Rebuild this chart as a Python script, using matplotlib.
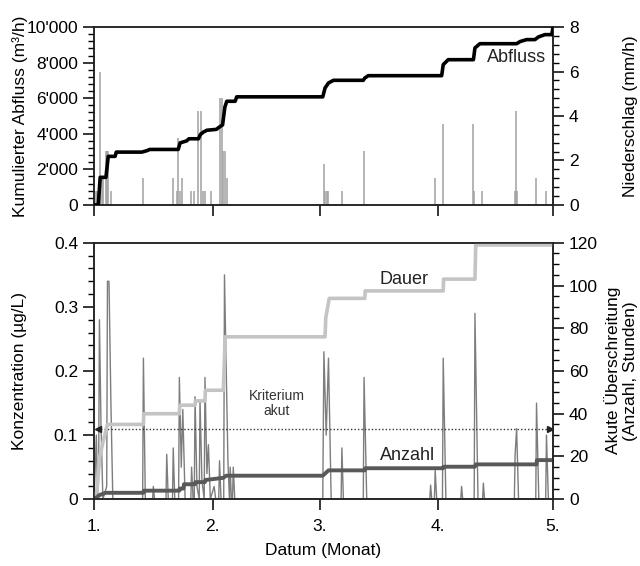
import matplotlib
matplotlib.use('Agg')
import matplotlib.pyplot as plt
from matplotlib.ticker import FuncFormatter, MultipleLocator

plt.rcParams['font.family'] = ['Liberation Sans', 'DejaVu Sans']
plt.rcParams['font.size'] = 12.5

# x axis: days since 1 January; ticks at the first day of each month
month_days = [0, 31, 59, 90, 120]
month_labels = ['1.', '2.', '3.', '4.', '5.']

# cumulative discharge (m3)
flow_days = [0, 1.1, 1.6, 3.1, 3.7, 5.5, 5.8, 12.5, 13.8, 14.6, 22.0, 22.5, 24.2,
             24.8, 27.3, 27.8, 28.6, 29.5, 32.0, 32.5, 33.6, 34.2, 34.7, 36.9,
             37.3, 59.8, 60.4, 61.3, 62.6, 70.4, 70.8, 71.7, 90.9, 91.3, 92.6,
             99.2, 99.6, 100.9, 110.5, 111.4, 113.1, 115.3, 116.2, 117.9, 119.7, 120]
flow_cum = [0, 0, 1550, 1550, 2730, 2730, 2970, 2970, 3050, 3120, 3120, 3490, 3600,
            3720, 3720, 3960, 4100, 4200, 4250, 4340, 4500, 5500, 5830, 5830,
            6080, 6080, 6580, 6860, 7010, 7010, 7140, 7270, 7270, 7890, 8170,
            8170, 8830, 9070, 9070, 9190, 9300, 9300, 9450, 9580, 9580, 10000]

# rainfall (mm/h)
rain_days = [0.6, 0.8, 1.6, 2.0, 2.4, 3.1, 3.4, 3.7, 4.4, 12.7, 20.6, 21.6, 22.0,
             22.5, 23.1, 25.3, 26.2, 27.3, 28.0, 28.6, 29.0, 30.5, 33.0, 33.4,
             33.8, 34.3, 34.8, 60.0, 60.4, 60.9, 61.3, 64.8, 70.6, 89.2, 91.2,
             99.0, 99.4, 101.4, 110.0, 110.3, 110.7, 115.6, 118.2]
rain_vals = [0.62, 0.62, 6.0, 1.22, 1.22, 2.42, 2.42, 2.42, 0.62, 1.22, 1.22, 0.62, 3.02,
             0.62, 1.22, 0.62, 0.62, 4.22, 4.22, 0.62, 0.62, 0.62, 4.82, 4.82,
             2.42, 2.42, 1.22, 1.82, 0.62, 0.62, 0.62, 0.62, 2.42, 1.22, 3.62,
             3.62, 0.62, 0.62, 0.62, 4.22, 0.62, 1.22, 0.62]

# concentration (ug/L)
conc_days = [0, 0.6, 0.9, 1.2, 1.4, 1.8, 2.3, 3.3, 3.5, 3.9, 4.4, 4.9, 12.7, 12.9,
             13.4, 15.3, 15.5, 15.8, 18.8, 19.0, 19.4, 20.5, 20.7, 21.1, 22.1, 22.3,
             22.8, 23.2, 23.8, 25.3, 25.5, 25.9, 26.2, 26.4, 26.9, 27.5, 27.7, 28.2,
             28.8, 29.0, 29.5, 29.9, 30.4, 31.4, 31.8, 32.6, 32.8, 33.2, 33.9, 34.1,
             34.5, 35.0, 35.4, 35.6, 35.9, 36.2, 36.4, 36.8, 59.8, 60.1, 60.7, 61.3,
             62.0, 64.6, 64.8, 65.2, 70.4, 70.6, 71.3, 87.8, 88.0, 88.3, 89.0, 89.2,
             89.6, 91.1, 91.3, 92.0, 95.9, 96.1, 96.4, 99.4, 99.6, 100.4, 101.6,
             101.8, 102.1, 109.9, 110.1, 110.5, 111.0, 115.5, 115.7, 116.3, 118.1,
             118.3, 118.8, 120]
conc_vals = [0, 0.10, 0, 0.05, 0.28, 0.12, 0, 0.02, 0.34, 0.34, 0.15, 0, 0, 0.22,
             0, 0, 0.02, 0, 0, 0.07, 0, 0, 0.08, 0, 0, 0.19,
             0.05, 0.14, 0, 0, 0.05, 0, 0, 0.16, 0.02, 0, 0.155, 0.03,
             0, 0.19, 0.04, 0.085, 0, 0.02, 0, 0, 0.06, 0, 0, 0.35,
             0.22, 0.06, 0, 0.05, 0, 0, 0.05, 0, 0, 0.23, 0.10, 0.22,
             0, 0, 0.08, 0, 0, 0.19, 0, 0, 0.022, 0, 0, 0.045,
             0, 0, 0.22, 0, 0, 0.02, 0, 0, 0.29, 0, 0,
             0.025, 0, 0, 0.07, 0.11, 0, 0, 0.15, 0, 0,
             0.10, 0, 0]
criterion = 0.11

# acute exceedances: duration (hours) and count
dauer_days = [0, 0.8, 1.5, 2.5, 3.5, 12.9, 13.0, 22.3, 22.4, 26.4, 26.5, 29.0, 29.1,
              33.8, 34.3, 60.4, 60.6, 61.5, 70.8, 70.9, 91.3, 91.4, 99.6, 99.8, 120]
dauer_vals = [0, 5, 20, 28, 35, 35, 40, 40, 44, 44, 46, 46, 51,
              51, 76, 76, 85, 94, 94, 97.5, 97.5, 103, 103, 119, 119]
anzahl_days = [0, 1.5, 3.0, 12.9, 13.0, 22.3, 22.4, 23.4, 23.5, 26.4, 26.5, 29.0,
               29.1, 33.8, 34.5, 59.8, 61.3, 70.8, 70.9, 91.3, 91.4, 99.6, 99.8,
               115.7, 115.8, 120]
anzahl_vals = [0, 2, 3, 3, 4, 4, 5, 5, 7, 7, 8, 8,
               9, 10, 11, 11, 13.5, 13.5, 14.5, 14.5, 15.2, 15.2, 16.3,
               16.3, 18.3, 18.3]


def thousands(v, pos):
    return f'{int(v):,}'.replace(',', "'")


def style_axis(ax, twin):
    for a in (ax, twin):
        a.tick_params(which='major', direction='out', length=8, width=1.1)
        a.tick_params(which='minor', direction='out', length=4, width=1.0)
        for s in a.spines.values():
            s.set_linewidth(1.1)
            s.set_color('#222222')
    ax.set_xlim(0, 120)
    ax.set_xticks(month_days)
    ax.xaxis.set_minor_locator(plt.NullLocator())


fig = plt.figure(figsize=(6.4, 5.66), dpi=100)
ax1 = fig.add_axes([0.147, 0.638, 0.717, 0.314])
ax1r = ax1.twinx()
ax2 = fig.add_axes([0.147, 0.118, 0.717, 0.453])
ax2r = ax2.twinx()

# top panel
ax1r.vlines(rain_days, 0, rain_vals, color='#a0a0a0', lw=1.1)
ax1.plot(flow_days, flow_cum, color='black', lw=2.6, zorder=5)
ax1.set_zorder(ax1r.get_zorder() + 1)
ax1.patch.set_visible(False)
ax1.set_ylim(0, 10000)
ax1r.set_ylim(0, 8)
ax1.yaxis.set_major_locator(MultipleLocator(2000))
ax1.yaxis.set_minor_locator(MultipleLocator(400))
ax1.yaxis.set_major_formatter(FuncFormatter(thousands))
ax1r.yaxis.set_major_locator(MultipleLocator(2))
ax1r.yaxis.set_minor_locator(MultipleLocator(0.4))
style_axis(ax1, ax1r)
ax1.set_xticklabels([])
ax1.text(110.6, 8290, 'Abfluss', ha='center', va='center', fontsize=13, color='#222222')

# bottom panel
ax2.plot(conc_days, conc_vals, color='#7d7d7d', lw=1.0, zorder=2)
ax2.hlines(criterion, 0.8, 119.2, color='#333333', lw=1.0, linestyles=(0, (1, 1.5)))
ax2.plot([0.9], [criterion], marker='<', color='#222222', ms=4)
ax2.plot([119.1], [criterion], marker='>', color='#222222', ms=4)
ax2r.plot(dauer_days, dauer_vals, color='#c4c4c4', lw=2.6)
ax2r.plot(anzahl_days, anzahl_vals, color='#595959', lw=2.8)
ax2.set_ylim(0, 0.4)
ax2r.set_ylim(0, 120)
ax2.yaxis.set_major_locator(MultipleLocator(0.1))
ax2.yaxis.set_minor_locator(MultipleLocator(0.02))
ax2.yaxis.set_major_formatter(FuncFormatter(lambda v, p: '0' if v == 0 else f'{v:.1f}'))
ax2r.yaxis.set_major_locator(MultipleLocator(20))
ax2r.yaxis.set_minor_locator(MultipleLocator(5))
style_axis(ax2, ax2r)
ax2.set_xticklabels(month_labels)
ax2.tick_params(axis='x', pad=6)
ax2.text(47.8, 0.15, 'Kriterium\nakut', ha='center', va='center', fontsize=10,
         color='#333333', linespacing=1.1)
ax2r.text(81, 102.7, 'Dauer', ha='center', va='center', fontsize=13, color='#222222')
ax2r.text(82, 20.5, 'Anzahl', ha='center', va='center', fontsize=13, color='#222222')

# axis titles
fig.text(0.031, 0.795, 'Kumulierter Abfluss (m³/h)', rotation=90, ha='center', va='center')
fig.text(0.031, 0.345, 'Konzentration (µg/L)', rotation=90, ha='center', va='center')
fig.text(0.985, 0.795, 'Niederschlag (mm/h)', rotation=90, ha='center', va='center')
fig.text(0.970, 0.345, 'Akute Überschreitung\n(Anzahl, Stunden)', rotation=90,
         ha='center', va='center', linespacing=1.15)
fig.text(0.505, 0.027, 'Datum (Monat)', ha='center', va='center')

fig.savefig('out.png', dpi=100)
